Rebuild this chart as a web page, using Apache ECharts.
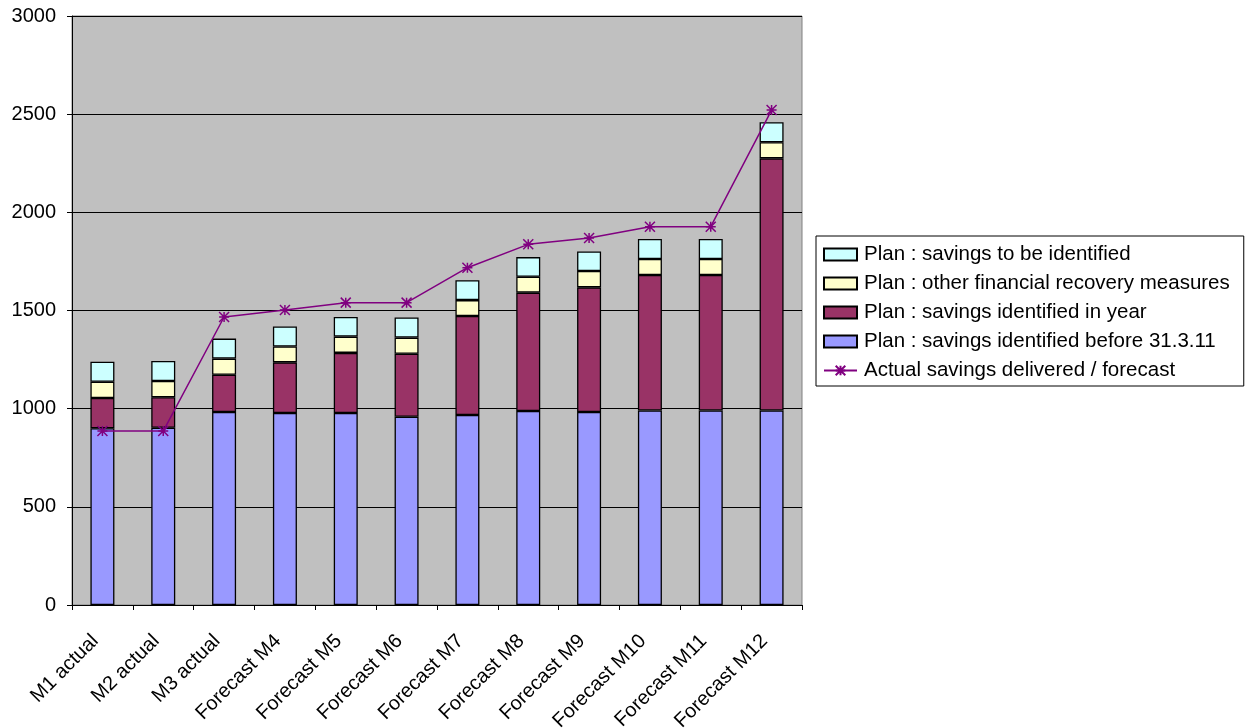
<!DOCTYPE html>
<html><head><meta charset="utf-8">
<script src="https://cdn.jsdelivr.net/npm/echarts@6/dist/echarts.min.js"></script>
<style>html,body{margin:0;padding:0;background:#fff}#c{width:1248px;height:728px}</style>
</head><body><div id="c"></div>
<script>
const categories = ['M1 actual','M2 actual','M3 actual','Forecast M4','Forecast M5','Forecast M6','Forecast M7','Forecast M8','Forecast M9','Forecast M10','Forecast M11','Forecast M12'];
const beforeVals = [900, 903, 983, 978, 978, 959, 968, 988, 983, 991, 991, 991];
const inYearVals = [154, 155, 190, 258, 306, 321, 504, 603, 635, 690, 690, 1284];
const otherVals = [83, 83, 82, 81, 83, 82, 81, 81, 83, 81, 81, 82];
const toBeVals = [102, 102, 102, 102, 100, 102, 101, 100, 100, 102, 102, 102];
const actualVals = [886, 886, 1467, 1503, 1540, 1540, 1718, 1837, 1869, 1927, 1927, 2521];
const yTicks = {min: 0, max: 3000, interval: 500};
const names = {
  toBe: 'Plan : savings to be identified',
  other: 'Plan : other financial recovery measures',
  inYear: 'Plan : savings identified in year',
  before: 'Plan : savings identified before 31.3.11',
  actual: 'Actual savings delivered / forecast'
};
const FONT = '"Liberation Sans", Arial, sans-serif';
const chart = echarts.init(document.getElementById('c'), null, {renderer: 'canvas'});
function barSeries(name, data, color) {
  return {name, type: 'bar', stack: 'plan', data, barWidth: 24,
    itemStyle: {color, borderColor: '#000', borderWidth: 1.3},
    emphasis: {disabled: true}};
}
const star = 'path://M5 0 L5 10 M0 0 L10 10 M10 0 L0 10 M0 5 L10 5';
chart.setOption({
  animation: false,
  grid: {left: 72, right: 446, top: 16, bottom: 123, show: true, backgroundColor: '#C0C0C0', borderColor: '#808080', borderWidth: 1, outerBoundsMode: 'none', containLabel: false},
  legend: {
    orient: 'vertical', left: 816, top: 236,
    data: [
      {name: names.toBe, icon: 'rect'},
      {name: names.other, icon: 'rect'},
      {name: names.inYear, icon: 'rect'},
      {name: names.before, icon: 'rect'},
      {name: names.actual}
    ],
    backgroundColor: '#fff', borderColor: '#000', borderWidth: 1,
    padding: [8, 14, 5, 7], itemGap: 8, itemWidth: 33, itemHeight: 12,
    textStyle: {fontFamily: FONT, fontSize: 20.5, color: '#000', lineHeight: 20, padding: [0,0,0,2]},
    selectedMode: false
  },
  xAxis: {
    type: 'category', data: categories,
    axisLine: {lineStyle: {color: '#000', width: 1}},
    axisTick: {show: true, length: 5, lineStyle: {color: '#000'}},
    axisLabel: {rotate: 45, fontFamily: FONT, fontSize: 20, color: '#000', margin: 26, interval: 0, padding: [0, 10, 0, 0]},
    splitLine: {show: false}
  },
  yAxis: {
    type: 'value', min: yTicks.min, max: yTicks.max, interval: yTicks.interval,
    axisLine: {show: true, lineStyle: {color: '#000', width: 1}},
    axisTick: {show: true, length: 5, lineStyle: {color: '#000'}},
    axisLabel: {fontFamily: FONT, fontSize: 20, color: '#000', margin: 16, formatter: v => String(v)},
    splitLine: {show: true, lineStyle: {color: '#000', width: 1}}
  },
  series: [
    barSeries(names.before, beforeVals, '#9999FF'),
    barSeries(names.inYear, inYearVals, '#993366'),
    barSeries(names.other, otherVals, '#FFFFCC'),
    barSeries(names.toBe, toBeVals, '#CCFFFF'),
    {name: names.actual, type: 'line', data: actualVals, symbol: star, symbolSize: 10,
      lineStyle: {color: '#800080', width: 1.5},
      itemStyle: {color: '#800080', borderColor: '#800080', borderWidth: 1.5},
      emphasis: {disabled: true}, z: 5}
  ]
});
</script></body></html>
